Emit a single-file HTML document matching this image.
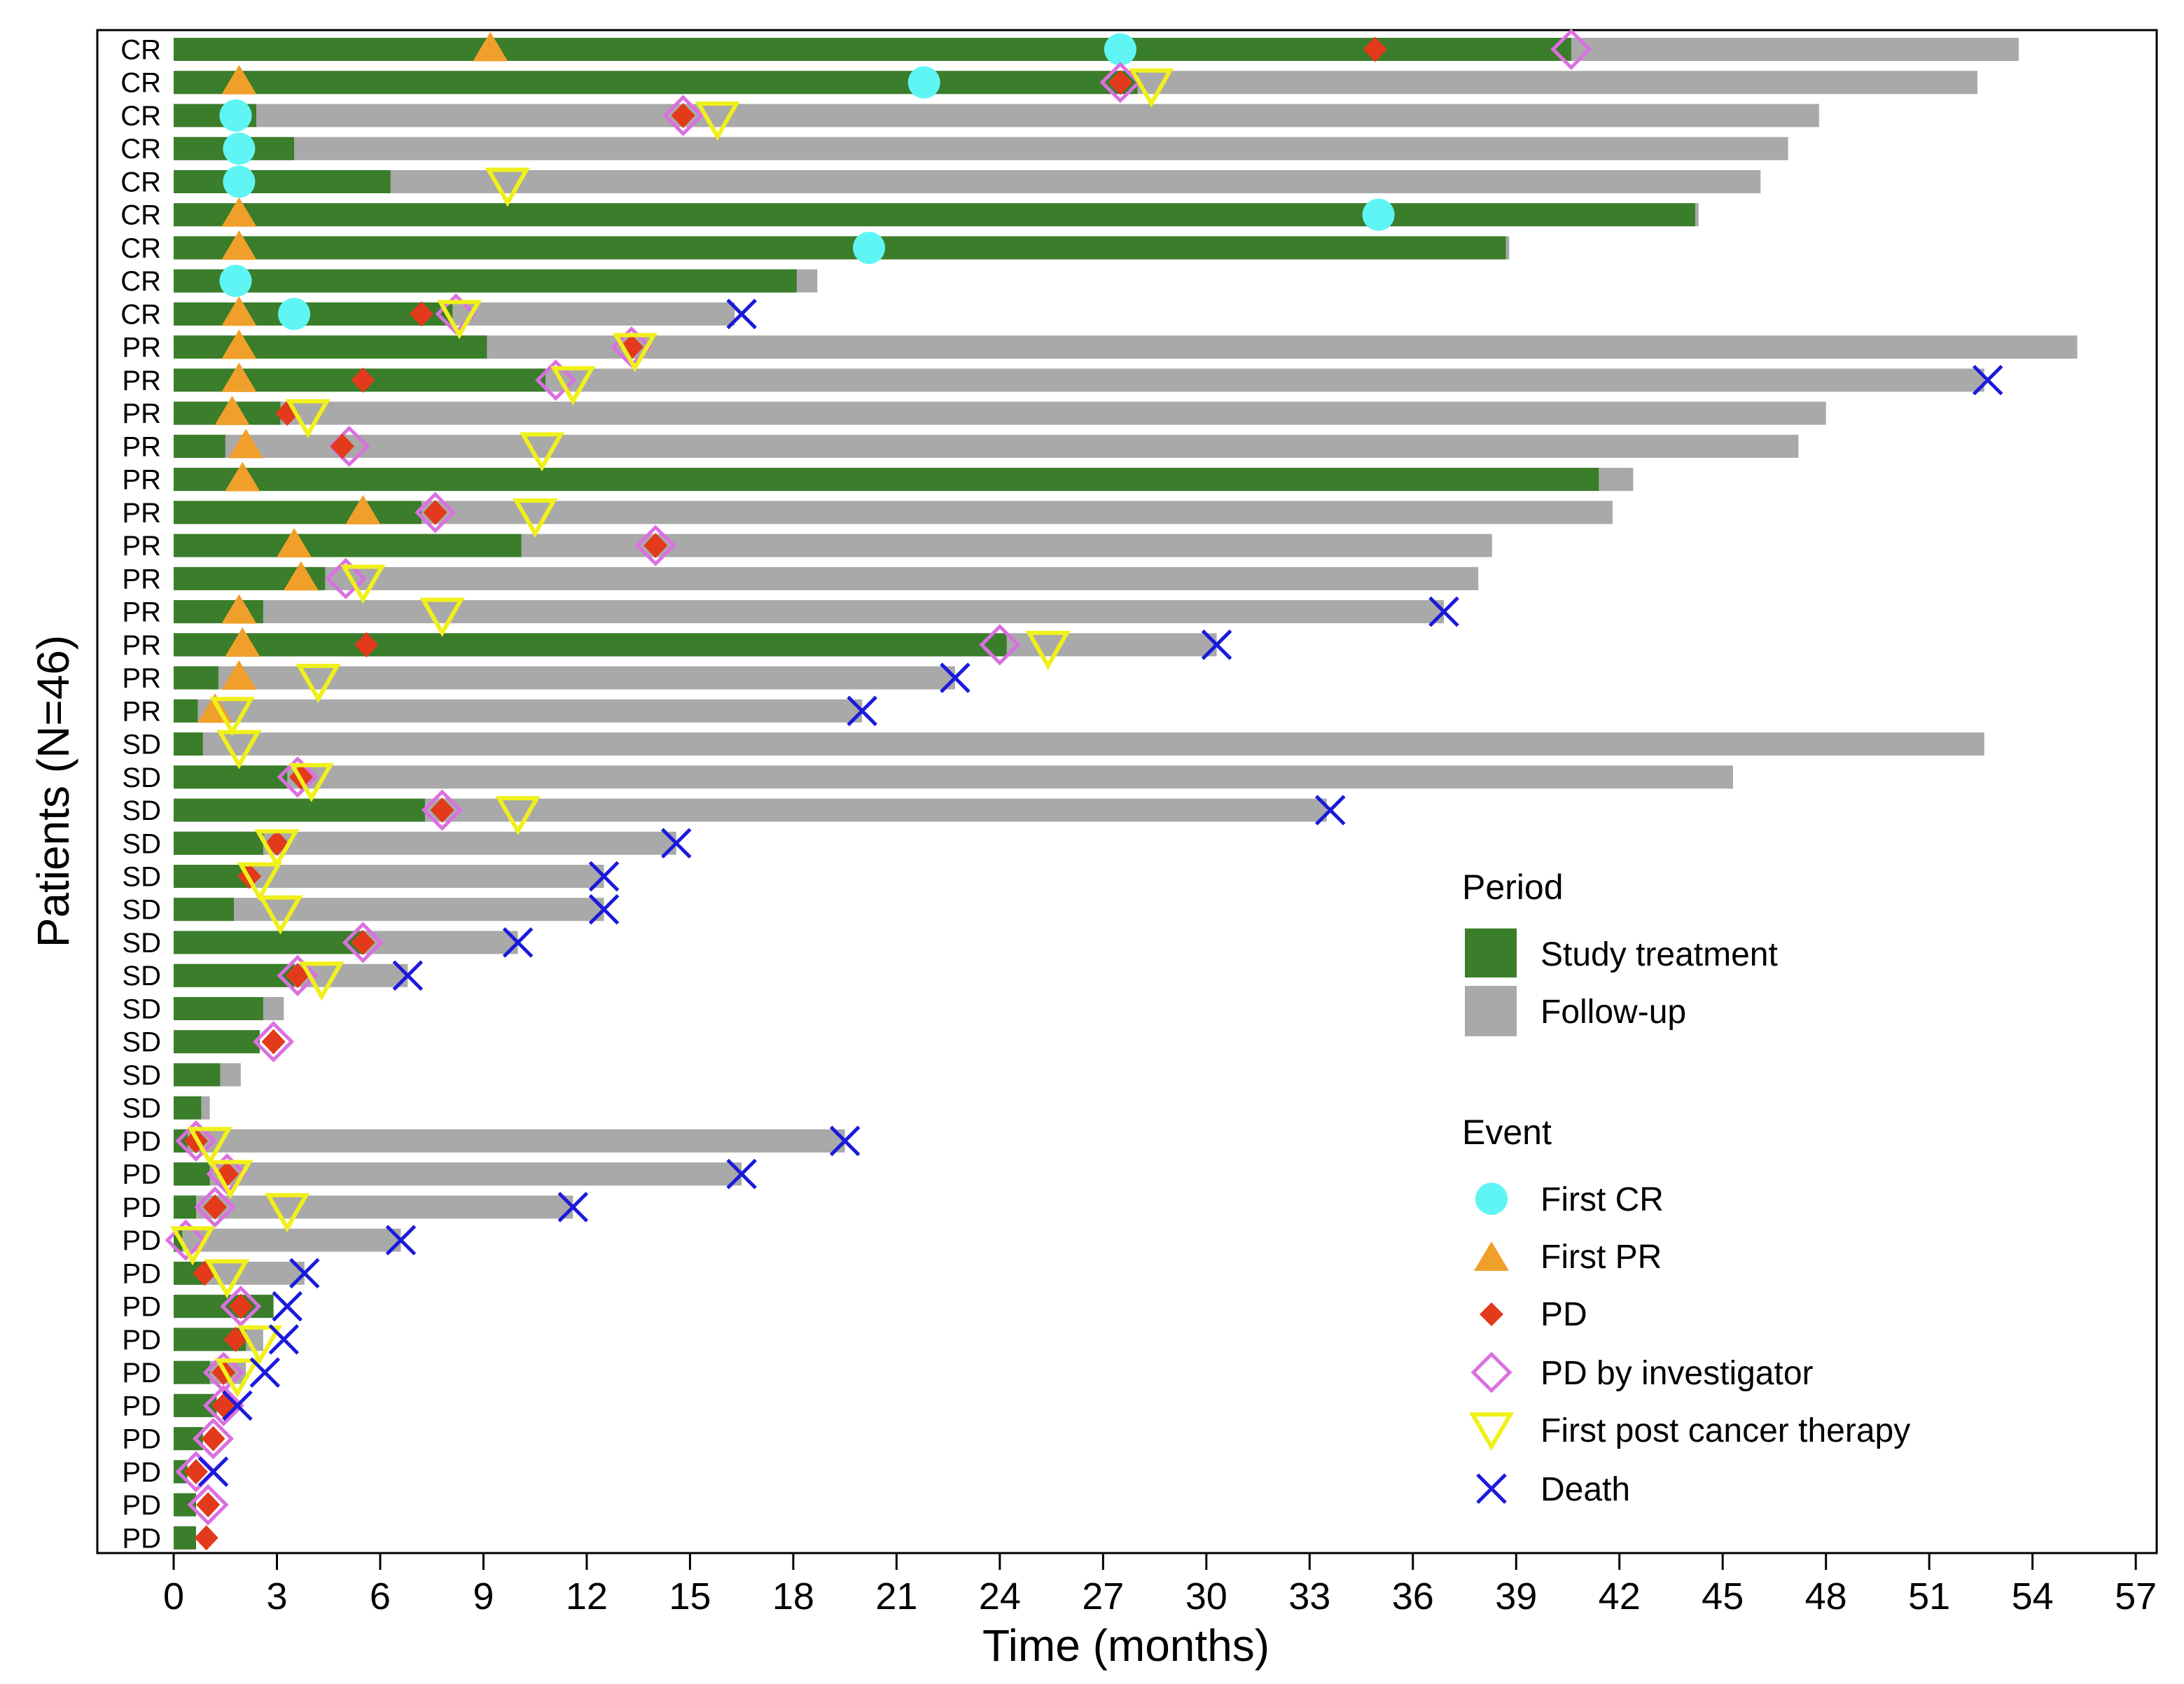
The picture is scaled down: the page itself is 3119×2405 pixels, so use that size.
<!DOCTYPE html>
<html><head><meta charset="utf-8"><style>
body{margin:0;background:#fff}
svg{display:block;font-family:"Liberation Sans",Arial,sans-serif}
</style></head><body>
<svg id="chart" width="3119" height="2405" viewBox="0 0 3119 2405" xmlns="http://www.w3.org/2000/svg">
<rect x="0" y="0" width="3119" height="2405" fill="#fff"/>
<rect x="139" y="43" width="2941" height="2175" fill="none" stroke="#000" stroke-width="3"/>
<g id="bars"></g><g id="marks"></g><g id="axis"></g>
<text transform="translate(98,1130) rotate(-90)" text-anchor="middle" font-size="64">Patients (N=46)</text>
<text x="1608" y="2372" text-anchor="middle" font-size="64">Time (months)</text>
<g font-size="48">
<text x="2088" y="1284" font-size="50">Period</text>
<rect x="2092" y="1326" width="74" height="70" fill="#3a7d2a"/>
<text x="2200" y="1379">Study treatment</text>
<rect x="2092" y="1408" width="74" height="72" fill="#a9a9a9"/>
<text x="2200" y="1461">Follow-up</text>
<text x="2088" y="1634" font-size="50">Event</text>
<circle cx="2130" cy="1712" r="23" fill="#5ff5f5"/>
<text x="2200" y="1729">First CR</text>
<polygon points="2105,1815 2155,1815 2130,1773" fill="#f0a02a"/>
<text x="2200" y="1811">First PR</text>
<polygon points="2130,1860 2147,1877 2130,1894 2113,1877" fill="#e23a1a"/>
<text x="2200" y="1893">PD</text>
<polygon points="2130,1934 2156,1960 2130,1986 2104,1960" fill="none" stroke="#da70e0" stroke-width="5"/>
<text x="2200" y="1977">PD by investigator</text>
<polygon points="2103,2020 2157,2020 2130,2066" fill="none" stroke="#f0f01a" stroke-width="6"/>
<text x="2200" y="2059">First post cancer therapy</text>
<path d="M2110,2106L2150,2146M2150,2106L2110,2146" stroke="#1a1adc" stroke-width="5"/>
<text x="2200" y="2143">Death</text>
</g>
</svg>
<script>
const labels=["CR","CR","CR","CR","CR","CR","CR","CR","CR","PR","PR","PR","PR","PR","PR","PR","PR","PR","PR","PR","PR","SD","SD","SD","SD","SD","SD","SD","SD","SD","SD","SD","SD","PD","PD","PD","PD","PD","PD","PD","PD","PD","PD","PD","PD","PD"];
const trtEnd=[40.6,28,2.4,3.5,6.3,44.2,38.7,18.1,8.1,9.1,10.8,3.1,1.5,41.4,7.2,10.1,4.4,2.6,24.2,1.3,0.7,0.85,3.3,7.3,2.6,2.2,1.75,5.5,3.5,2.6,2.5,1.35,0.8,0.4,1.05,0.65,0.25,0.85,2.9,2.1,1.05,1.25,0.85,0.4,0.65,0.65];
const totalEnd=[53.6,52.4,47.8,46.9,46.1,44.3,38.8,18.7,16.3,55.3,52.6,48.0,47.2,42.4,41.8,38.3,37.9,36.9,30.3,22.7,20.0,52.6,45.3,33.5,14.6,12.5,12.5,10.0,6.8,3.2,2.5,1.95,1.05,19.5,16.5,11.6,6.6,3.8,2.9,2.6,2.1,1.25,0.85,0.4,0.65,0.65];
const firstCR=[27.5,21.8,1.8,1.9,1.9,35.0,20.2,1.8,3.5,null,null,null,null,null,null,null,null,null,null,null,null,null,null,null,null,null,null,null,null,null,null,null,null,null,null,null,null,null,null,null,null,null,null,null,null,null];
const firstPR=[9.2,1.9,null,null,null,1.9,1.9,null,1.9,1.9,1.9,1.7,2.1,2.0,5.5,3.5,3.7,1.9,2.0,1.9,1.2,null,null,null,null,null,null,null,null,null,null,null,null,null,null,null,null,null,null,null,null,null,null,null,null,null];
const pdTime=[34.9,27.5,14.8,null,null,null,null,null,7.2,13.3,5.5,3.3,4.9,null,7.6,14.0,null,null,5.6,null,null,null,3.7,7.8,3.0,2.2,null,5.5,3.6,null,2.9,null,null,0.65,1.55,1.2,null,0.9,1.95,1.8,1.45,1.45,1.15,0.65,1.0,0.95];
const pdInv=[40.6,27.5,14.8,null,null,null,null,null,8.2,13.3,11.1,null,5.1,null,7.6,14.0,5.0,null,24.0,null,null,null,3.6,7.8,null,null,null,5.5,3.6,null,2.9,null,null,0.65,1.55,1.2,0.35,null,1.95,null,1.45,1.45,1.15,0.65,1.0,null];
const postTherapy=[null,28.4,15.8,null,9.7,null,null,null,8.3,13.4,11.6,3.9,10.7,null,10.5,null,5.5,7.8,25.4,4.2,1.7,1.9,4.0,10.0,3.0,2.5,3.1,null,4.3,null,null,null,null,1.05,1.65,3.3,0.55,1.55,null,2.5,1.85,null,null,null,null,null];
const death=[null,null,null,null,null,null,null,null,16.5,null,52.7,null,null,null,null,null,null,36.9,30.3,22.7,20.0,null,null,33.6,14.6,12.5,12.5,10.0,6.8,null,null,null,null,19.5,16.5,11.6,6.6,3.8,3.3,3.2,2.65,1.85,null,1.15,null,null];
const xTicks=[0,3,6,9,12,15,18,21,24,27,30,33,36,39,42,45,48,51,54,57];

const NS="http://www.w3.org/2000/svg";
const xs=m=>248+m*49.16;
const ys=i=>70.5+i*47.24;
function mk(tag,attrs,parent){const e=document.createElementNS(NS,tag);for(const k in attrs)e.setAttribute(k,attrs[k]);parent.appendChild(e);return e;}
const gB=document.getElementById('bars'),gM=document.getElementById('marks'),gA=document.getElementById('axis');
labels.forEach((l,i)=>{
  const y=ys(i);
  let t=mk('text',{x:230,y:y+14,'text-anchor':'end','font-size':40},gB);t.textContent=l;
  
  
  let r=mk('rect',{x:xs(0),y:y-16.5,width:Math.max(0,xs(totalEnd[i])-xs(0)),height:33,fill:'#a9a9a9'},gB);
  
  
  let g=mk('rect',{x:xs(0),y:y-16.5,width:Math.max(0,xs(trtEnd[i])-xs(0)),height:33,fill:'#3a7d2a'},gB);
  
  
  if(firstCR[i]!=null){let c=mk('circle',{cx:xs(firstCR[i]),cy:y,r:23,fill:'#5ff5f5'},gM);
    
    }
  if(firstPR[i]!=null){const x=xs(firstPR[i]);let p=mk('polygon',{points:`${x-25},${y+17} ${x+25},${y+17} ${x},${y-25}`,fill:'#f0a02a'},gM);
    
    }
  if(pdInv[i]!=null){const x=xs(pdInv[i]);let p=mk('polygon',{points:`${x},${y-26} ${x+26},${y} ${x},${y+26} ${x-26},${y}`,fill:'none',stroke:'#da70e0','stroke-width':5},gM);
    
    }
  if(pdTime[i]!=null){const x=xs(pdTime[i]);let p=mk('polygon',{points:`${x},${y-18} ${x+17},${y} ${x},${y+18} ${x-17},${y}`,fill:'#e23a1a'},gM);
    
    }
  if(postTherapy[i]!=null){const x=xs(postTherapy[i]);let p=mk('polygon',{points:`${x-27},${y-17} ${x+27},${y-17} ${x},${y+30}`,fill:'none',stroke:'#f0f01a','stroke-width':6},gM);
    
    }
  if(death[i]!=null){const x=xs(death[i]);let p=mk('path',{d:`M${x-20},${y-20}L${x+20},${y+20}M${x+20},${y-20}L${x-20},${y+20}`,stroke:'#1a1adc','stroke-width':5},gM);
    
    }
});
xTicks.forEach(v=>{
  const x=xs(v);
  let l=mk('line',{x1:x,x2:x,y1:2218,y2:2242,stroke:'#000','stroke-width':3},gA);
  
  
  let t=mk('text',{x:x,y:2298,'text-anchor':'middle','font-size':54},gA);t.textContent=v;
  
  
});
</script>
</body></html>
